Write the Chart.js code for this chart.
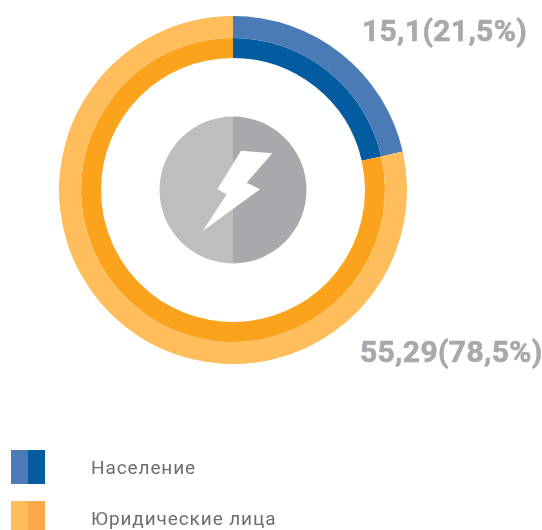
<!DOCTYPE html>
<html><head><meta charset="utf-8">
<script src="https://cdn.jsdelivr.net/npm/chart.js@4"></script>
<style>
html,body{margin:0;padding:0;background:#fff;overflow:hidden}
#wrap{position:relative;width:542px;height:530px;overflow:hidden}
canvas{position:absolute;left:0;top:0}
.val{position:absolute;font:700 30px Roboto,sans-serif;color:#a7a9ac;white-space:nowrap;line-height:34px;letter-spacing:.35px;-webkit-text-stroke:.6px #a7a9ac}
.leg{position:absolute;font:400 19px Roboto,sans-serif;color:#6d6e71;white-space:nowrap;line-height:24px;letter-spacing:.9px;left:91px}
.sw{position:absolute;left:11px;width:34px;height:34px}
</style></head><body>
<div id="wrap"><canvas id="c" width="542" height="530"></canvas></div>
<script>
const categories = ['Население', 'Юридические лица'];
const values = [15.1, 55.29];
const valueLabels = ['15,1(21,5%)', '55,29(78,5%)'];
const outerColors = ['#4a7bb6', '#ffbd5b'];
const innerColors = ['#045ca0', '#fca31d'];
const swatchDark = ['#045ca0', '#ffa94d'];
const labelPos = [[362, 14], [360, 335]];
const legendTop = [450, 501];

const centerIcon = {
  id: 'centerIcon',
  afterDatasetsDraw(chart) {
    const m = chart.getDatasetMeta(0).data[0];
    const cx = m.x, cy = m.y, R = m.outerRadius, ctx = chart.ctx;
    const r = R * 73.5 / 174;
    ctx.save();
    ctx.fillStyle = '#bcbec0';
    ctx.beginPath(); ctx.arc(cx, cy, r, Math.PI / 2, Math.PI * 1.5); ctx.closePath(); ctx.fill();
    ctx.fillStyle = '#a7a9ac';
    ctx.beginPath(); ctx.arc(cx, cy, r, -Math.PI / 2, Math.PI / 2); ctx.closePath(); ctx.fill();
    const bolt = [[8,-39.3],[39.3,-36.7],[13.7,-7.3],[27,-0.7],[-30.3,41],[-6.3,4.3],[-15.7,-0.7]];
    ctx.fillStyle = '#fff';
    ctx.beginPath();
    bolt.forEach((p, i) => i ? ctx.lineTo(cx + p[0], cy + p[1]) : ctx.moveTo(cx + p[0], cy + p[1]));
    ctx.closePath(); ctx.fill();
    ctx.restore();
  }
};

new Chart(document.getElementById('c'), {
  type: 'doughnut',
  data: {
    labels: categories,
    datasets: [
      { data: values, backgroundColor: outerColors, borderWidth: 0, weight: 22 },
      { data: values, backgroundColor: innerColors, borderWidth: 0, weight: 20 }
    ]
  },
  options: {
    responsive: false,
    animation: false,
    cutout: (132 / 174 * 100) + '%',
    layout: { padding: { left: 59, top: 16, right: 135, bottom: 166 } },
    plugins: { legend: { display: false }, tooltip: { enabled: false } }
  },
  plugins: [centerIcon]
});

const wrap = document.getElementById('wrap');
valueLabels.forEach((t, i) => {
  const d = document.createElement('div');
  d.className = 'val'; d.textContent = t;
  d.style.left = labelPos[i][0] + 'px'; d.style.top = labelPos[i][1] + 'px';
  wrap.appendChild(d);
});
categories.forEach((t, i) => {
  const s = document.createElement('div');
  s.className = 'sw';
  s.style.top = legendTop[i] + 'px';
  s.style.background = `linear-gradient(90deg, ${outerColors[i]} 50%, ${swatchDark[i]} 50%)`;
  wrap.appendChild(s);
  const d = document.createElement('div');
  d.className = 'leg'; d.textContent = t;
  d.style.top = (legendTop[i] + 6) + 'px';
  wrap.appendChild(d);
});
</script></body></html>
